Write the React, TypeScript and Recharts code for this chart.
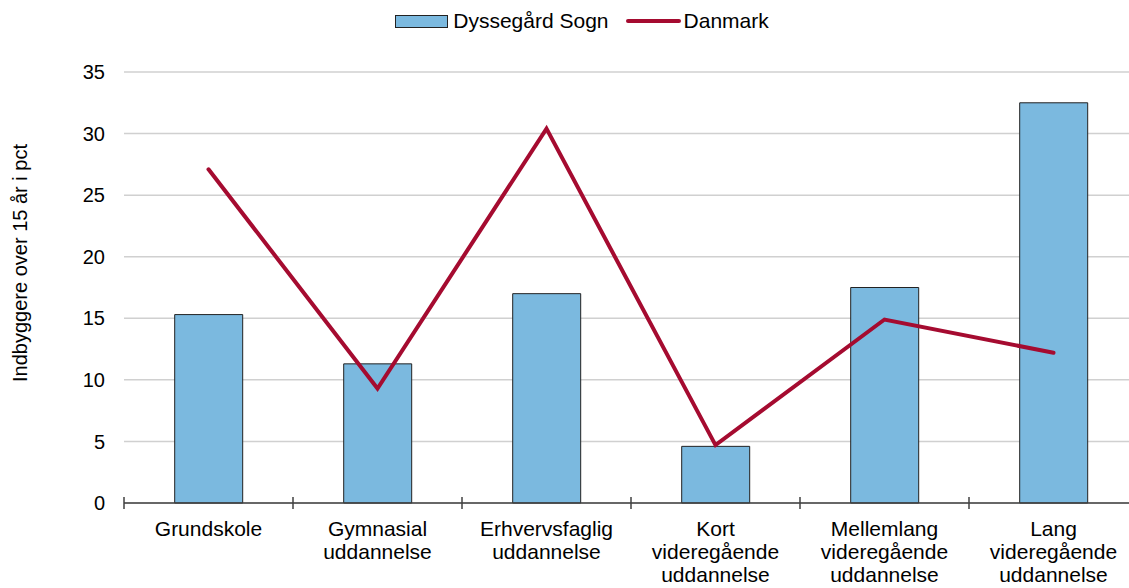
import {
  Bar,
  CartesianGrid,
  ComposedChart,
  Label,
  Legend,
  Line,
  XAxis,
  YAxis,
} from "recharts";

const categories = [
  "Grundskole",
  "Gymnasial\nuddannelse",
  "Erhvervsfaglig\nuddannelse",
  "Kort\nvideregående\nuddannelse",
  "Mellemlang\nvideregående\nuddannelse",
  "Lang\nvideregående\nuddannelse",
];
const sognValues = [15.3, 11.3, 17.0, 4.6, 17.5, 32.5];
const danmarkValues = [27.1, 9.3, 30.4, 4.7, 14.9, 12.2];
const yTicks = [0, 5, 10, 15, 20, 25, 30, 35];

const data = categories.map((name, i) => ({
  name,
  sogn: sognValues[i],
  danmark: danmarkValues[i],
}));

const FONT = '"Liberation Sans", Arial, sans-serif';
const BAR_FILL = "#7BB9DF";
const LINE_COLOR = "#A50B30";

function CategoryTick(props: any) {
  const { x, y, payload, index } = props;
  const half = payload && payload.offset ? payload.offset : 84.5;
  const lines = String(payload.value).split("\n");
  return (
    <g>
      <line x1={x - half} x2={x - half} y1={y - 6} y2={y + 6} stroke="#404040" strokeWidth={1.5} />
      {index === categories.length - 1 && (
        <line x1={x + half} x2={x + half} y1={y - 6} y2={y + 6} stroke="#404040" strokeWidth={1.5} />
      )}
      <text x={x} y={y + 33} textAnchor="middle" fontSize={21} fill="#000" fontFamily={FONT}>
        {lines.map((line, i) => (
          <tspan key={i} x={x} dy={i === 0 ? 0 : 23}>
            {line}
          </tspan>
        ))}
      </text>
    </g>
  );
}

function ChartLegend() {
  return (
    <div
      style={{
        height: 62,
        display: "flex",
        justifyContent: "center",
        alignItems: "flex-start",
        paddingLeft: 26,
        boxSizing: "border-box",
        fontFamily: FONT,
        fontSize: 21,
        color: "#000",
      }}
    >
      <div style={{ display: "flex", alignItems: "center", height: 22 }}>
        <span
          style={{
            display: "inline-block",
            width: 51,
            height: 11,
            background: BAR_FILL,
            border: "1px solid #222",
            marginRight: 5,
          }}
        />
        <span>Dyssegård Sogn</span>
        <span
          style={{
            display: "inline-block",
            width: 55,
            height: 4,
            borderRadius: 2,
            background: LINE_COLOR,
            marginLeft: 17,
            marginRight: 3,
          }}
        />
        <span>Danmark</span>
      </div>
    </div>
  );
}

export default function App() {
  return (
    <div
      style={{
        position: "fixed",
        left: 0,
        top: 0,
        width: 1129,
        height: 588,
        overflow: "hidden",
        background: "#fff",
      }}
    >
      <ComposedChart
        width={1164}
        height={588}
        data={data}
        margin={{ top: 10, right: 26, bottom: 0, left: 0 }}
        barCategoryGap="30%"
        style={{ fontFamily: FONT }}
      >
        <Legend verticalAlign="top" align="center" content={() => <ChartLegend />} />
        <CartesianGrid vertical={false} stroke="#D0D0D0" strokeWidth={1.5} />
        <XAxis
          dataKey="name"
          height={85}
          axisLine={{ stroke: "#404040", strokeWidth: 1.5 }}
          tickLine={false}
          tickSize={0}
          tickMargin={0}
          interval={0}
          tick={<CategoryTick />}
        />
        <YAxis
          width={124}
          domain={[0, 35]}
          ticks={yTicks}
          axisLine={false}
          tickLine={false}
          tickSize={0}
          tickMargin={19}
          tick={{ fontSize: 20, fill: "#000", fontFamily: FONT }}
        >
          <Label
            content={({ viewBox }: any) => {
              const cx = (viewBox?.x ?? 0) + 27;
              const cy = 263;
              return (
                <text
                  x={cx}
                  y={cy}
                  transform={`rotate(-90, ${cx}, ${cy})`}
                  textAnchor="middle"
                  fontSize={20}
                  fill="#000"
                  fontFamily={FONT}
                >
                  Indbyggere over 15 år i pct
                </text>
              );
            }}
          />
        </YAxis>
        <Bar dataKey="sogn" fill={BAR_FILL} stroke="#222" strokeWidth={1} isAnimationActive={false} />
        <Line
          dataKey="danmark"
          type="linear"
          stroke={LINE_COLOR}
          strokeWidth={4}
          strokeLinecap="round"
          strokeLinejoin="miter"
          dot={false}
          activeDot={false}
          isAnimationActive={false}
        />
      </ComposedChart>
    </div>
  );
}
